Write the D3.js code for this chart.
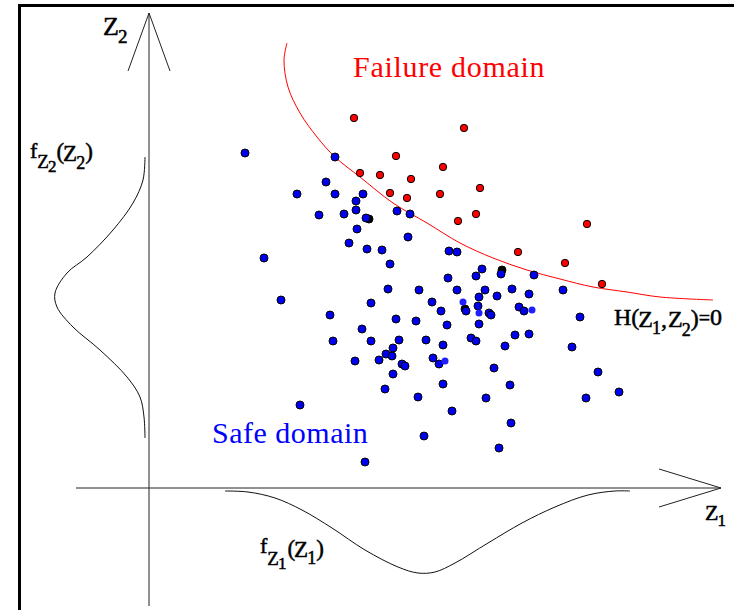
<!DOCTYPE html>
<html>
<head>
<meta charset="utf-8">
<script src="https://cdn.jsdelivr.net/npm/d3@7"></script>
<style>
  body { margin: 0; background: #fff; }
  svg { display: block; }
</style>
</head>
<body>
<div id="vis"></div>
<script>
const FRAME_WIDTH = 734;
const FRAME_HEIGHT = 610;
const SERIF = "'Liberation Serif', 'DejaVu Serif', 'Times New Roman', serif";

// sample points, in (Z1, Z2) units
const safePoints = [
  [0.96, 3.35], [1.86, 3.31], [1.77, 3.06], [1.48, 2.94], [1.86, 2.94], [2.14, 2.94],
  [2.07, 2.87], [1.70, 2.73], [1.95, 2.74], [2.07, 2.78], [2.17, 2.70], [2.48, 2.77],
  [2.61, 2.74], [2.08, 2.59], [2.59, 2.51], [2.00, 2.45], [2.18, 2.39], [2.33, 2.38],
  [1.15, 2.30], [2.41, 2.24], [3.00, 2.37], [3.08, 2.36], [3.33, 2.19], [3.52, 2.14],
  [3.27, 2.12], [3.85, 2.13], [2.99, 2.10], [2.39, 1.99], [2.70, 1.98], [3.08, 1.98],
  [3.36, 1.98], [3.63, 1.99], [3.80, 1.94], [4.14, 1.98], [3.30, 1.91], [3.48, 1.92],
  [1.32, 1.88], [2.83, 1.86], [2.22, 1.85], [3.29, 1.82], [1.81, 1.73], [2.47, 1.69],
  [2.67, 1.67], [2.92, 1.77], [3.17, 1.77], [3.40, 1.75], [3.42, 1.73], [3.70, 1.81],
  [3.75, 1.77], [4.31, 1.71], [2.98, 1.63], [3.30, 1.64], [3.66, 1.53], [3.80, 1.54],
  [2.13, 1.59], [1.84, 1.47], [2.22, 1.47], [2.50, 1.48], [2.77, 1.48], [2.94, 1.43],
  [3.22, 1.50], [3.27, 1.47], [3.56, 1.42], [4.23, 1.41], [2.44, 1.40], [2.37, 1.34],
  [2.43, 1.32], [2.06, 1.27], [2.30, 1.28], [2.53, 1.24], [2.56, 1.22], [2.84, 1.30],
  [2.90, 1.24], [3.45, 1.20], [4.49, 1.16], [2.44, 1.14], [2.36, 0.99], [2.69, 0.91],
  [2.94, 1.04], [3.37, 0.90], [3.61, 1.03], [4.37, 0.90], [4.70, 0.96], [1.51, 0.83],
  [3.03, 0.77], [3.62, 0.65], [2.75, 0.52], [3.50, 0.40], [2.16, 0.26]
];
const failurePoints = [
  [2.05, 3.70], [3.15, 3.60], [2.47, 3.32], [2.11, 3.15], [2.31, 3.13], [2.62, 3.09],
  [2.94, 3.21], [3.31, 3.00], [2.41, 2.95], [2.58, 2.90], [2.91, 2.94], [3.27, 2.74],
  [3.09, 2.67], [4.38, 2.64], [3.69, 2.36], [4.16, 2.25], [4.53, 2.04]
];
const hiddenPoints = [[2.20, 2.69], [3.53, 2.18], [3.16, 1.79]];
const faintPoints = [[3.14, 1.86], [3.30, 1.75], [3.83, 1.78], [2.96, 1.27]];

// limit state H(Z1,Z2)=0
const limitState = [
  [1.38, 4.45], [1.35, 4.28], [1.39, 4.01], [1.51, 3.75], [1.68, 3.51], [1.86, 3.31],
  [2.11, 3.11], [2.44, 2.85], [2.78, 2.65], [3.11, 2.45], [3.44, 2.30], [3.78, 2.18],
  [4.11, 2.09], [4.44, 2.01], [4.78, 1.96], [5.11, 1.91], [5.64, 1.88]
];

// marginal densities: [z, f]
const densityZ2 = [
  [3.31, 0.00], [3.08, 0.02], [2.85, 0.12], [2.58, 0.32], [2.31, 0.58], [2.15, 0.78],
  [1.95, 0.90], [1.81, 0.88], [1.61, 0.72], [1.38, 0.45], [1.11, 0.18], [0.91, 0.05],
  [0.71, 0.01], [0.50, 0.00]
];
const densityZ1 = [
  [0.76, 0.00], [0.99, 0.01], [1.26, 0.07], [1.53, 0.19], [1.83, 0.37], [2.16, 0.59],
  [2.49, 0.76], [2.69, 0.82], [2.86, 0.81], [3.06, 0.72], [3.39, 0.52], [3.73, 0.32],
  [4.06, 0.16], [4.39, 0.04], [4.66, 0.00], [4.81, 0.00]
];
const DENSITY_BASE_Z1 = -0.04;
const DENSITY_BASE_Z2 = -0.03;

const Z1_AXIS = [-0.73, 5.72];
const Z2_AXIS = [-1.18, 4.75];

const FRAME = d3.select("#vis")
    .append("svg")
    .attr("width", FRAME_WIDTH)
    .attr("height", FRAME_HEIGHT);

const X_SCALE = d3.scaleLinear().domain([-1.49, 5.85]).range([0, FRAME_WIDTH]);
const Y_SCALE = d3.scaleLinear().domain([-1.22, 4.88]).range([FRAME_HEIGHT, 0]);

// frame (only left and top edges show)
FRAME.append("rect")
    .attr("x", 19.5).attr("y", 5.5)
    .attr("width", 760).attr("height", 640)
    .attr("fill", "none").attr("stroke", "#000").attr("stroke-width", 3);

// axes
const AXIS_COLOR = "#222";
const x0 = X_SCALE(0), y0 = Y_SCALE(0);

FRAME.append("line")
    .attr("x1", X_SCALE(Z1_AXIS[0])).attr("x2", X_SCALE(Z1_AXIS[1]))
    .attr("y1", y0).attr("y2", y0)
    .attr("stroke", AXIS_COLOR).attr("stroke-width", 1);

FRAME.append("line")
    .attr("x1", x0).attr("x2", x0)
    .attr("y1", Y_SCALE(Z2_AXIS[0])).attr("y2", Y_SCALE(Z2_AXIS[1]))
    .attr("stroke", AXIS_COLOR).attr("stroke-width", 1);

// open arrow heads
const tipX = X_SCALE(Z1_AXIS[1]);
FRAME.append("path")
    .attr("d", `M${tipX - 62},${y0 - 19}L${tipX},${y0}L${tipX - 62},${y0 + 19}`)
    .attr("fill", "none").attr("stroke", AXIS_COLOR).attr("stroke-width", 1);

const tipY = Y_SCALE(Z2_AXIS[1]);
FRAME.append("path")
    .attr("d", `M${x0 - 21},${tipY + 58}L${x0},${tipY}L${x0 + 21},${tipY + 58}`)
    .attr("fill", "none").attr("stroke", AXIS_COLOR).attr("stroke-width", 1);

// density curves
const curve = d3.curveCatmullRom.alpha(0.5);

FRAME.append("path")
    .datum(densityZ2)
    .attr("d", d3.line()
        .x(d => X_SCALE(DENSITY_BASE_Z1 - d[1]))
        .y(d => Y_SCALE(d[0]))
        .curve(curve))
    .attr("fill", "none").attr("stroke", "#111").attr("stroke-width", 1);

FRAME.append("path")
    .datum(densityZ1)
    .attr("d", d3.line()
        .x(d => X_SCALE(d[0]))
        .y(d => Y_SCALE(DENSITY_BASE_Z2 - d[1]))
        .curve(curve))
    .attr("fill", "none").attr("stroke", "#111").attr("stroke-width", 1);

// limit state curve
FRAME.append("path")
    .datum(limitState)
    .attr("d", d3.line()
        .x(d => X_SCALE(d[0]))
        .y(d => Y_SCALE(d[1]))
        .curve(curve))
    .attr("fill", "none").attr("stroke", "#ff0000").attr("stroke-width", 1);

// sample points
function draw_points(data, fill, r, stroke) {
    FRAME.append("g")
        .selectAll("circle")
        .data(data)
        .enter()
        .append("circle")
            .attr("cx", d => X_SCALE(d[0]))
            .attr("cy", d => Y_SCALE(d[1]))
            .attr("r", r)
            .attr("fill", fill)
            .attr("stroke", stroke)
            .attr("stroke-width", stroke == "none" ? 0 : 1);
}

draw_points(hiddenPoints, "#000", 4, "#000");
draw_points(safePoints, "#0000ee", 4, "#000");
draw_points(failurePoints, "#ff0000", 3.7, "#000");
draw_points(faintPoints, "#1f1fff", 3.5, "none");

// labels
FRAME.append("text")
    .attr("x", 353).attr("y", 77)
    .attr("font-family", SERIF)
    .attr("font-size", 30).attr("letter-spacing", 0.7)
    .attr("fill", "#ff0000")
    .text("Failure domain");

FRAME.append("text")
    .attr("x", 212).attr("y", 443)
    .attr("font-family", SERIF)
    .attr("font-size", 30).attr("letter-spacing", 0.5)
    .attr("fill", "#0000ff")
    .text("Safe domain");

// math labels, one text per label: [text, dx, baseline shift, size]
function draw_math(x, y, pieces) {
    const t = FRAME.append("text")
        .attr("x", x).attr("y", y)
        .attr("font-family", SERIF)
        .attr("fill", "#000")
        .attr("stroke", "#000").attr("stroke-width", 0.5);
    let prev = 0;
    pieces.forEach(p => {
        t.append("tspan")
            .attr("dx", p[1])
            .attr("dy", p[2] - prev)
            .attr("font-size", p[3])
            .text(p[0]);
        prev = p[2];
    });
}

draw_math(103, 35, [["Z", 0, 0, 26], ["2", -1, 8, 19]]);
draw_math(705, 520, [["Z", 0, 0, 22], ["1", -1, 6, 17]]);

draw_math(30, 158, [
    ["f", 0, 0, 22], ["Z", 0, 10, 19], ["2", -1, 14, 17],
    ["(", 0, 1, 23], ["Z", -1, 3, 23], ["2", -1, 11, 18], [")", 0, 1, 23]
]);

draw_math(260, 553, [
    ["f", 0, 0, 22], ["Z", 0, 12, 19], ["1", -1, 16, 17],
    ["(", 1, 3, 23], ["Z", -1, 4, 23], ["1", -1, 11, 18], [")", 0, 3, 23]
]);

draw_math(614, 325, [
    ["H", 0, 0, 24], ["(", 0, 0, 24], ["Z", -1, 2, 24], ["1", -1, 9, 18],
    [",", 0, 2, 24], ["Z", 1, 2, 24], ["2", -1, 11, 18], [")", 0, 1, 24],
    ["=", 0, 0, 20], ["0", 0, 0, 24]
]);
</script>
</body>
</html>
